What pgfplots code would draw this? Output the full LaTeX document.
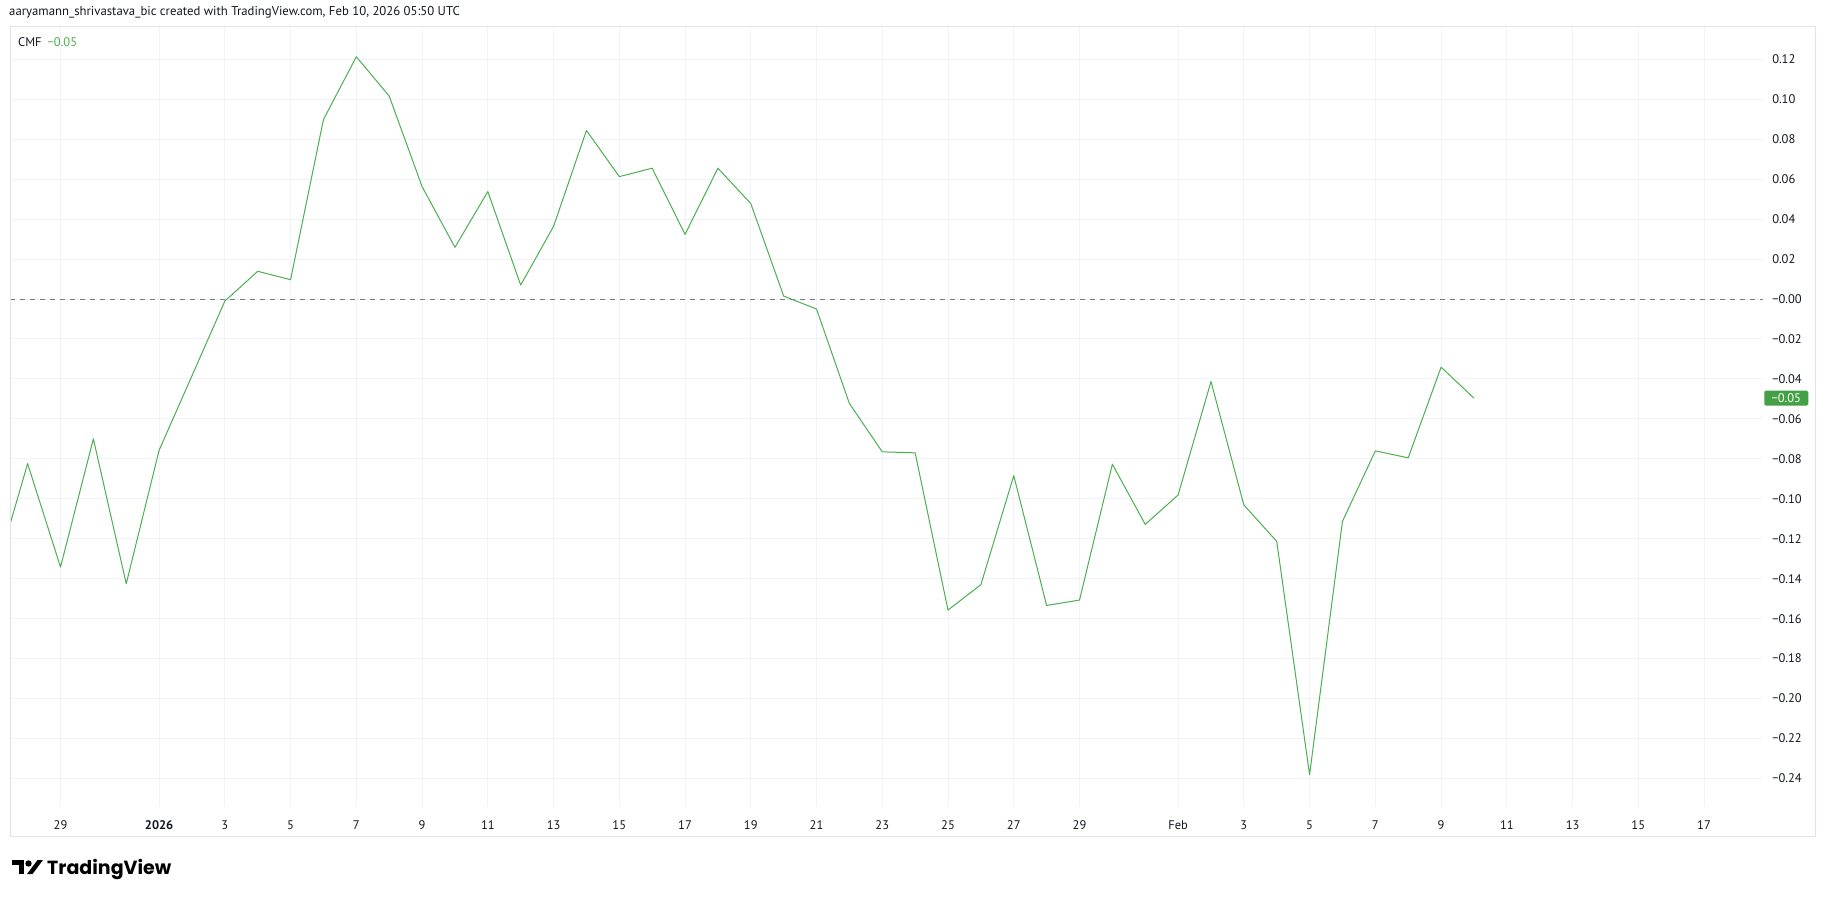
\documentclass[border=0pt]{standalone}
\usepackage{fontspec}
\setmainfont{PT Sans}
\newfontfamily\logofont{Poppins}
\usepackage{pgfplots}
\usepackage{pgfplotstable}
\pgfplotsset{compat=1.18}
\definecolor{tvgreen}{HTML}{4CAF50}
\definecolor{tvbox}{HTML}{43A047}
\definecolor{tvgrid}{HTML}{F0F3FA}
\definecolor{tvframe}{HTML}{E0E3EB}
\definecolor{tvzero}{HTML}{787B86}
\definecolor{tvtext}{HTML}{131722}

% d = days since 29 Dec 2025
\pgfplotstableread{
d v
-2 -0.1390
-1 -0.0824
0 -0.1342
1 -0.0700
2 -0.1425
3 -0.0757
4 -0.0384
5 -0.0010
6 0.0139
7 0.0097
8 0.0899
9 0.1213
10 0.1016
11 0.0563
12 0.0259
13 0.0538
14 0.0070
15 0.0364
16 0.0844
17 0.0613
18 0.0655
19 0.0324
20 0.0655
21 0.0478
22 0.0015
23 -0.0050
24 -0.0523
25 -0.0765
26 -0.0770
27 -0.1557
28 -0.1430
29 -0.0884
30 -0.1534
31 -0.1507
32 -0.0827
33 -0.1128
34 -0.0981
35 -0.0413
36 -0.1031
37 -0.1213
38 -0.2381
39 -0.1113
40 -0.0760
41 -0.0795
42 -0.0341
43 -0.0496
}\cmf

\begin{document}
\begin{tikzpicture}[x=1pt,y=1pt]
\path[use as bounding box, fill=white] (0,0) rectangle (1825,897);
\begin{axis}[
  at={(10pt,91pt)}, anchor=south west,
  width=1753pt, height=779pt, scale only axis,
  xmin=-1.5364, xmax=51.795, ymin=-0.2538, ymax=0.1362,
  axis line style={draw=none},
  xtick={0,3,5,7,9,11,13,15,17,19,21,23,25,27,29,31,34,36,38,40,42,44,46,48,50},
  xticklabels={29,\textbf{2026},3,5,7,9,11,13,15,17,19,21,23,25,27,29,Feb,3,5,7,9,11,13,15,17},
  ytick={-0.24,-0.22,-0.20,-0.18,-0.16,-0.14,-0.12,-0.10,-0.08,-0.06,-0.04,-0.02,0,0.02,0.04,0.06,0.08,0.10,0.12},
  yticklabels={−0.24,−0.22,−0.20,−0.18,−0.16,−0.14,−0.12,−0.10,−0.08,−0.06,−0.04,−0.02,−0.00,0.02,0.04,0.06,0.08,0.10,0.12},
  yticklabel pos=right,
  major tick length=0pt, tick style={draw=none},
  grid=major, major grid style={draw=tvgrid, line width=1pt},
  tick label style={font=\fontsize{12.5}{15}\selectfont, text=tvtext},
  xticklabel style={anchor=center, yshift=-19pt},
  yticklabel style={anchor=west, inner xsep=0pt, xshift=9pt},
  clip mode=individual,
]
\addplot[tvzero, line width=0.8pt, dash pattern=on 5pt off 5pt] coordinates {(-1.5364,0) (51.795,0)};
\addplot[tvgreen, line width=1pt, line join=round] table[x=d, y=v] {\cmf};
\node[fill=tvbox, text=white, font=\fontsize{12.5}{15}\selectfont, anchor=west,
      minimum width=44pt, minimum height=15pt, inner sep=0pt, rounded corners=1.5pt]
      at (axis cs:51.795,-0.0496) [xshift=1pt] {−0.05};
\end{axis}
% outer frame
\draw[tvframe, line width=1pt] (10,61) rectangle (1815,870);
% header
\node[anchor=base west, inner sep=0pt, font=\fontsize{12.75}{15}\selectfont, text=tvtext] at (9,881)
  {aaryamann\_shrivastava\_bic created with TradingView.com, Feb 10, 2026 05:50 UTC};
\node[anchor=base west, inner sep=0pt, font=\fontsize{12.5}{15}\selectfont, text=tvtext] at (18,850)
  {CMF\hspace{6pt}\textcolor{tvgreen}{−0.05}};
% logo
\fill[black] (12,37) rectangle (24,32);
\fill[black] (19,37) rectangle (24,23);
\fill[black] (28.5,33.5) circle (3.2);
\fill[black] (27,23) -- (32.5,23) -- (43,37) -- (37.5,37) -- cycle;
\node[anchor=base west, inner sep=0pt, font=\logofont\bfseries\fontsize{19}{22}\selectfont] at (47,23) {TradingView};
\end{tikzpicture}
\end{document}
